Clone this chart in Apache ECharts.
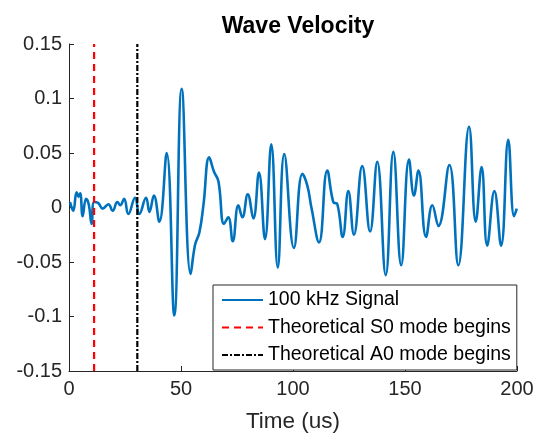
<!DOCTYPE html>
<html>
<head>
<meta charset="utf-8">
<script src="https://cdn.jsdelivr.net/npm/echarts@6/dist/echarts.min.js"></script>
<style>
  html, body { margin: 0; padding: 0; background: #fff; }
  #chart { width: 537px; height: 438px; }
</style>
</head>
<body>
<div id="chart"></div>
<script>
// time (us) and amplitude of the 100 kHz signal
var timeUs = [0.45, 1.9, 3.4, 4.3, 5.0, 6.1, 7.6, 8.8, 10.1, 11.2, 13.1, 15.0, 17.6, 19.5, 21.6, 22.9, 24.6, 26.5,
  29.5, 31.4, 34.4, 35.9, 37.9, 40.3, 43.6, 47.0, 50.3, 54.3, 56.3, 58.2, 60.0, 62.6, 64.7, 66.7, 69.2, 71.1,
  73.1, 75.6, 77.4, 79.8, 82.3, 84.8, 87.5, 90.3, 93.2, 96.1, 100.4, 104.2, 106.4, 108.3, 111.6, 115.3, 118.0,
  119.8, 122.2, 124.7, 127.2, 130.9, 134.4, 137.6, 141.4, 144.8, 148.3, 151.8, 154.0, 156.0, 159.4, 162.2,
  164.9, 169.8, 173.8, 178.6, 181.6, 184.2, 186.7, 189.9, 192.9, 196.1, 198.7, 199.9];
var signal = [0.005, -0.003, 0.014, 0.010, 0.013, -0.008, 0.008, 0.003, -0.015, 0.005, 0.004, -0.001, 0.003, -0.003,
  0.005, 0.002, 0.008, -0.006, 0.009, -0.006, 0.009, -0.004, 0.011, -0.013, 0.050, -0.099, 0.109, -0.061, -0.034,
  -0.023, 0.002, 0.046, 0.033, 0.024, -0.015, -0.009, -0.031, 0.002, -0.009, 0.012, -0.010, 0.032, -0.029, 0.058,
  -0.055, 0.049, -0.037, 0.031, 0.020, -0.001, -0.032, 0.034, 0.005, 0.003, -0.027, 0.015, -0.025, 0.038, -0.022,
  0.042, -0.062, 0.051, -0.053, 0.044, 0.011, 0.034, -0.027, 0.002, -0.017, 0.039, -0.053, 0.074, -0.013, 0.037,
  -0.035, 0.015, -0.035, 0.062, -0.008, -0.001];

// theoretical mode arrival times (us)
var s0Time = 11.2;
var a0Time = 30.5;

var xTicks = [0, 200, 50];          // min, max, step
var yTicks = [-0.15, 0.15, 0.05];

var seriesNames = ['100 kHz Signal', 'Theoretical S0 mode begins', 'Theoretical A0 mode begins'];

var sigData = [];
for (var i = 0; i < timeUs.length; i++) {
  sigData.push([timeUs[i], signal[i]]);
}

var chart = echarts.init(document.getElementById('chart'));
var txt = '#262626';
var font = '"Liberation Sans", Arial, Helvetica, sans-serif';

var option = {
  animation: false,
  backgroundColor: '#fff',
  title: {
    text: 'Wave Velocity',
    left: 293,
    textAlign: 'center',
    top: 10,
    textStyle: { fontFamily: font, fontSize: 23, fontWeight: 'bold', color: '#000' }
  },
  grid: { left: 69, right: 20, top: 44, bottom: 65, containLabel: false },
  legend: {
    orient: 'vertical',
    left: 213,
    top: 285,
    padding: [4, 6, 4, 8],
    itemWidth: 41,
    itemHeight: 14,
    itemGap: 5.5,
    borderColor: txt,
    borderWidth: 1,
    backgroundColor: '#fff',
    borderRadius: 0,
    itemStyle: { opacity: 0 },
    textStyle: { fontFamily: font, fontSize: 19.5, color: '#000', lineHeight: 22, padding: [0, 0, 0, 0] },
    data: seriesNames
  },
  xAxis: {
    type: 'value',
    min: xTicks[0], max: xTicks[1], interval: xTicks[2],
    name: 'Time (us)',
    nameLocation: 'middle',
    nameGap: 39,
    nameTextStyle: { fontFamily: font, fontSize: 22.5, color: txt },
    axisLine: { onZero: false, lineStyle: { color: txt, width: 1 } },
    axisTick: { inside: true, length: 5, lineStyle: { color: txt } },
    axisLabel: { fontFamily: font, fontSize: 20, color: txt, margin: 8 },
    splitLine: { show: false }
  },
  yAxis: {
    type: 'value',
    min: yTicks[0], max: yTicks[1], interval: yTicks[2],
    axisLine: { show: true, onZero: false, lineStyle: { color: txt, width: 1 } },
    axisTick: { show: true, inside: true, length: 5, lineStyle: { color: txt } },
    axisLabel: { fontFamily: font, fontSize: 20, color: txt, margin: 7 },
    splitLine: { show: false }
  },
  series: [
    {
      name: seriesNames[0],
      type: 'line',
      data: sigData,
      smooth: 0.45,
      symbol: 'none',
      z: 3,
      lineStyle: { color: '#0072BD', width: 2.6 },
      itemStyle: { color: '#0072BD' }
    },
    {
      name: seriesNames[1],
      type: 'line',
      data: [[s0Time, yTicks[0]], [s0Time, yTicks[1]]],
      symbol: 'none',
      z: 4,
      lineStyle: { color: '#FF0000', width: 2.2, type: [7, 5] },
      itemStyle: { color: '#FF0000' }
    },
    {
      name: seriesNames[2],
      type: 'line',
      data: [[a0Time, yTicks[0]], [a0Time, yTicks[1]]],
      symbol: 'none',
      z: 4,
      lineStyle: { color: '#000', width: 2.2, type: [6, 2, 2, 2] },
      itemStyle: { color: '#000' }
    }
  ]
};

chart.setOption(option);
</script>
</body>
</html>
